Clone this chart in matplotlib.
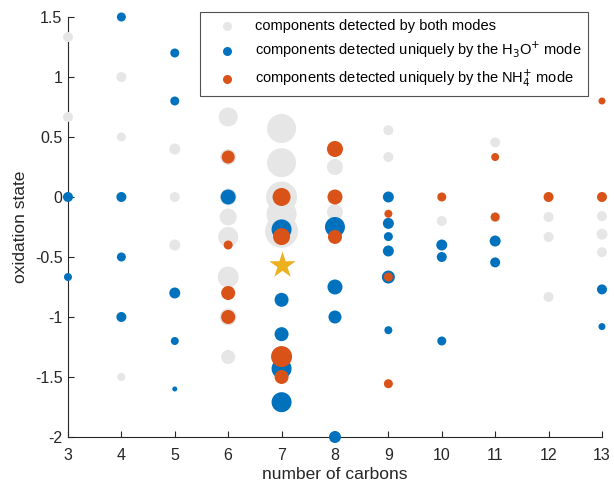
import matplotlib
matplotlib.use("Agg")
import matplotlib.pyplot as plt

plt.rcParams['font.family'] = ['Liberation Sans', 'DejaVu Sans']
plt.rcParams['axes.unicode_minus'] = False

# components detected by both modes (carbon number, oxidation state, marker diameter px)
both_c = [3, 3, 4, 4, 4, 5, 5, 5, 6, 6, 6, 6, 6, 6, 6, 6,
          7, 7, 7, 7, 7, 8, 8, 8, 9, 9, 10, 11, 11, 12, 12, 12, 13, 13, 13]
both_os = [1.333, 0.667, 1.0, 0.5, -1.5, 0.4, 0.0, -0.4,
           0.667, 0.333, 0.0, -0.167, -0.333, -0.667, -1.0, -1.333,
           0.571, 0.286, 0.0, -0.143, -0.286, 0.25, 0.0, -0.125,
           0.556, 0.333, -0.2, 0.455, -0.167, -0.167, -0.333, -0.833,
           -0.16, -0.31, -0.46]
both_d = [10, 10, 10, 9, 8, 11, 10, 11,
          19, 16, 17, 17, 20, 21, 17, 14,
          29, 29, 31, 30, 33, 16, 14, 16,
          10, 10, 10, 10, 10, 10, 10, 10,
          10, 11, 10]

# components detected uniquely by the H3O+ mode
h3o_c = [3, 3, 4, 4, 4, 4, 5, 5, 5, 5, 5, 6,
         7, 7, 7, 7, 7, 8, 8, 8, 8,
         9, 9, 9, 9, 9, 9, 10, 10, 10, 11, 11, 13, 13]
h3o_os = [0.0, -0.667, 1.5, 0.0, -0.5, -1.0, 1.2, 0.8, -0.8, -1.2, -1.6, 0.0,
          -0.27, -0.857, -1.143, -1.43, -1.71, -0.25, -0.75, -1.0, -2.0,
          0.0, -0.22, -0.33, -0.45, -0.667, -1.11, -0.4, -0.5, -1.2, -0.367, -0.545,
          -0.77, -1.08]
h3o_d = [10, 8, 9, 10, 9, 10, 9, 9, 11, 8, 5, 15,
         20, 14, 14, 20, 20, 20, 15, 13, 12,
         11, 11, 9, 11, 13, 8, 11, 10, 9, 11, 10,
         10, 7]

# components detected uniquely by the NH4+ mode
nh4_c = [6, 6, 6, 6, 7, 7, 7, 7, 8, 8, 8, 9, 9, 9, 10, 11, 11, 12, 13, 13]
nh4_os = [0.333, -0.4, -0.8, -1.0, 0.0, -0.33, -1.33, -1.5,
          0.4, 0.0, -0.333, -0.14, -0.667, -1.556, 0.0, 0.333, -0.167, 0.0, 0.8, 0.0]
nh4_d = [13, 9, 14, 14, 18, 17, 21, 14,
         16, 15, 14, 8, 9, 9, 9, 8, 9, 10, 7, 10]

# mean oxidation state marker
star_c = [7]
star_os = [-0.57]

x_ticks = list(range(3, 14))
y_ticks = [-2, -1.5, -1, -0.5, 0, 0.5, 1, 1.5]
y_tick_labels = ['-2', '-1.5', '-1', '-0.5', '0', '0.5', '1', '1.5']

GRAY = '#E6E6E6'
BLUE = '#0072BD'
ORANGE = '#D95319'
YELLOW = '#EDB120'
AXIS = '#262626'


def area(diams):
    # pixel diameter -> marker area in points^2 at 100 dpi
    return [(d * 0.72) ** 2 for d in diams]


fig = plt.figure(figsize=(6.14, 4.87), dpi=100)
ax = fig.add_axes([0.1107, 0.1027, 0.8697, 0.8624])

ax.scatter(both_c, both_os, s=area(both_d), c=GRAY, linewidths=0,
           clip_on=False, zorder=3, label='components detected by both modes')
ax.scatter(h3o_c, h3o_os, s=area(h3o_d), c=BLUE, linewidths=0,
           clip_on=False, zorder=4,
           label=r'components detected uniquely by the H$_3$O$^{+}$ mode')
ax.scatter(nh4_c, nh4_os, s=area(nh4_d), c=ORANGE, linewidths=0,
           clip_on=False, zorder=5,
           label=r'components detected uniquely by the NH$_4^{+}$ mode')
ax.scatter(star_c, star_os, s=400, marker='*', c=YELLOW, linewidths=0,
           clip_on=False, zorder=6)

ax.set_xlim(3, 13)
ax.set_ylim(-2, 1.5)
ax.set_xticks(x_ticks)
ax.set_yticks(y_ticks)
ax.set_yticklabels(y_tick_labels)

for side in ('top', 'right'):
    ax.spines[side].set_visible(False)
for side in ('left', 'bottom'):
    ax.spines[side].set_color(AXIS)
    ax.spines[side].set_linewidth(0.8)
    ax.spines[side].set_zorder(1)
ax.tick_params(direction='in', length=4, width=0.8, colors=AXIS,
               labelsize=11.5, labelcolor=AXIS)
ax.tick_params(axis='x', pad=8)
ax.tick_params(axis='y', pad=4)

ax.set_xlabel('number of carbons', fontsize=12.5, color=AXIS, labelpad=3)
ax.set_ylabel('oxidation state', fontsize=12.5, color=AXIS, labelpad=5)

leg = ax.legend(loc='upper right', bbox_to_anchor=(588 / 614, 1 - 12 / 487),
                bbox_transform=fig.transFigure, fancybox=False, fontsize=10.5,
                handlelength=2.8, handletextpad=0.5, borderpad=0.45,
                labelspacing=0.5, frameon=True, borderaxespad=0)
leg.get_frame().set_edgecolor(AXIS)
leg.get_frame().set_linewidth(0.8)
for h in leg.legend_handles:
    h.set_sizes([42])

fig.savefig('out.png', dpi=100)
